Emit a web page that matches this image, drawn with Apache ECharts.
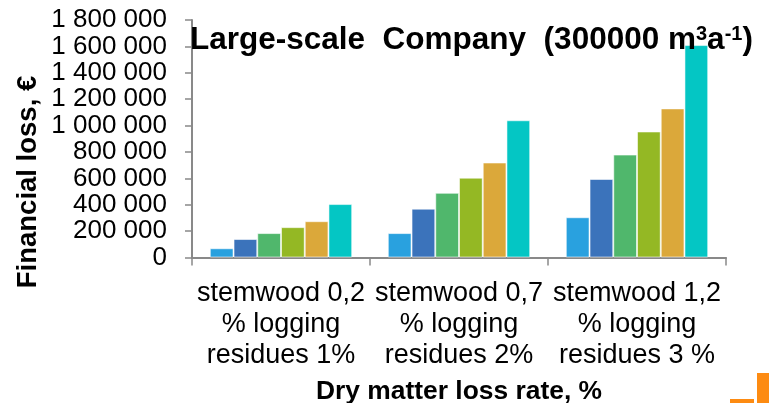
<!DOCTYPE html>
<html>
<head>
<meta charset="utf-8">
<script src="https://cdn.jsdelivr.net/npm/echarts@6/dist/echarts.min.js"></script>
<style>
  html, body { margin: 0; padding: 0; background: #ffffff; }
  #chart { width: 769px; height: 403px; }
</style>
</head>
<body>
<div id="chart"></div>
<script>
// Dry matter loss scenarios on the category axis
const categories = [
  'stemwood 0,2\n% logging\nresidues 1%',
  'stemwood 0,7\n% logging\nresidues 2%',
  'stemwood 1,2\n% logging\nresidues 3 %'
];

// Financial loss (€) per scenario, one array per bar series
const series1 = [70000, 185000, 305000];
const series2 = [140000, 370000, 595000];
const series3 = [185000, 490000, 780000];
const series4 = [230000, 605000, 955000];
const series5 = [275000, 720000, 1130000];
const series6 = [405000, 1040000, 1610000];

const seriesNames = ['Series 1', 'Series 2', 'Series 3', 'Series 4', 'Series 5', 'Series 6'];
const seriesColors = ['#29a1df', '#3b73bb', '#50b76c', '#94b824', '#dba83a', '#04c6c4'];

// Value axis ticks
const yMin = 0;
const yMax = 1800000;
const yStep = 200000;

const FONT = "'Liberation Sans', Arial, Helvetica, sans-serif";
const AXIS_GREY = '#898989';

const seriesData = [series1, series2, series3, series4, series5, series6];

const chart = echarts.init(document.getElementById('chart'), null, { renderer: 'canvas' });

function spacedThousands(v) {
  return String(v).replace(/\B(?=(\d{3})+(?!\d))/g, ' ');
}

chart.setOption({
  backgroundColor: '#ffffff',
  animation: false,
  textStyle: { fontFamily: FONT },
  title: {
    text: '{b|Large-scale  Company  (300000 m}{s|3}{b|a}{s|-1}{b|)}',
    left: 185,
    top: 19,
    textStyle: {
      rich: {
        b: { fontFamily: FONT, fontSize: 31.5, fontWeight: 'bold', color: '#000000' },
        s: { fontFamily: FONT, fontSize: 20, fontWeight: 'bold', color: '#000000', verticalAlign: 'top' }
      }
    }
  },
  grid: {
    left: 192, right: 43, top: 20, bottom: 145.5,
    containLabel: false,
    outerBoundsMode: 'none'
  },
  xAxis: {
    type: 'category',
    data: categories,
    name: 'Dry matter loss rate, %',
    nameLocation: 'middle',
    nameGap: 121,
    nameTextStyle: { fontFamily: FONT, fontSize: 26.4, fontWeight: 'bold', color: '#000000' },
    axisLine: { show: true, lineStyle: { color: AXIS_GREY, width: 2 } },
    axisTick: { show: true, alignWithLabel: false, interval: 0, length: 8, lineStyle: { color: AXIS_GREY, width: 1.5 } },
    axisLabel: {
      interval: 0,
      margin: 21,
      fontFamily: FONT,
      fontSize: 27,
      lineHeight: 31,
      color: '#000000',
      align: 'center'
    },
    splitLine: { show: false }
  },
  yAxis: {
    type: 'value',
    min: yMin,
    max: yMax,
    interval: yStep,
    axisLine: { show: true, lineStyle: { color: AXIS_GREY, width: 2 } },
    axisTick: { show: true, length: 7, lineStyle: { color: AXIS_GREY, width: 1.5 } },
    axisLabel: {
      margin: 25,
      fontFamily: FONT,
      fontSize: 26,
      lineHeight: 24,
      color: '#000000',
      showMinLabel: true,
      showMaxLabel: true,
      hideOverlap: false,
      formatter: spacedThousands
    },
    splitLine: { show: false }
  },
  series: seriesData.map((values, i) => ({
    name: seriesNames[i],
    type: 'bar',
    data: values,
    barGap: '0%',
    barCategoryGap: '20%',
    itemStyle: {
      color: seriesColors[i],
      borderColor: 'rgba(255,255,255,0.55)',
      borderWidth: 1
    }
  })),
  graphic: [
    {
      type: 'text',
      x: 28,
      y: 182,
      rotation: Math.PI / 2,
      style: {
        text: 'Financial loss, €',
        fontFamily: FONT,
        fontSize: 27.5,
        fontWeight: 'bold',
        fill: '#000000',
        textAlign: 'center',
        textVerticalAlign: 'middle'
      }
    },
    // corner mark
    { type: 'rect', shape: { x: 730, y: 399, width: 24, height: 4 }, style: { fill: '#fd8b12' } },
    { type: 'rect', shape: { x: 757, y: 373, width: 12, height: 30 }, style: { fill: '#fd8b12' } }
  ]
});
</script>
</body>
</html>
